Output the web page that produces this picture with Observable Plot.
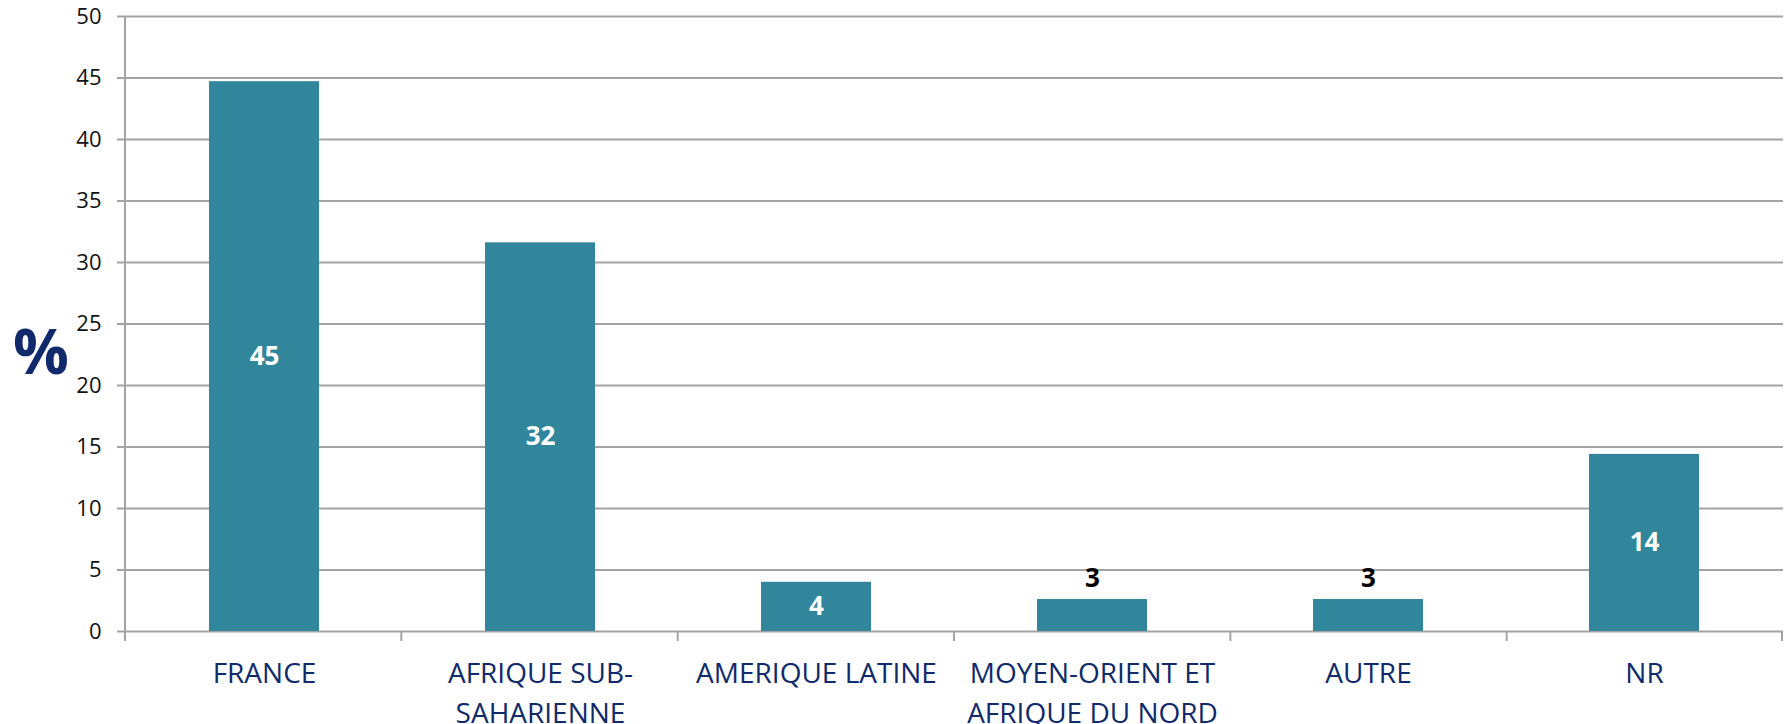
<!DOCTYPE html>
<html>
<head>
<meta charset="utf-8">
<script src="https://cdn.jsdelivr.net/npm/d3@7"></script>
<script src="https://cdn.jsdelivr.net/npm/@observablehq/plot@0.6"></script>
<style>
  html, body { margin: 0; padding: 0; background: #fff; overflow: hidden; }
  #chart { position: relative; width: 1785px; height: 724px; }
  #pct { position: absolute; left: 13px; top: 319px; font: bold 62px "Open Sans", sans-serif; color: #102a6b; line-height: 1; }
</style>
</head>
<body>
<div id="chart"><div id="pct">%</div></div>
<script>
const categories = ["FRANCE", "AFRIQUE SUB-\nSAHARIENNE", "AMERIQUE LATINE", "MOYEN-ORIENT ET\nAFRIQUE DU NORD", "AUTRE", "NR"];
const values = [44.7, 31.6, 4.0, 2.6, 2.6, 14.4];
const yTicks = [0, 5, 10, 15, 20, 25, 30, 35, 40, 45, 50];

const data = categories.map((c, i) => ({cat: c, v: values[i], label: String(Math.round(values[i]))}));
const inside = data.filter(d => d.v >= 3.5);
const above = data.filter(d => d.v < 3.5);

const gray = "#a3a3a3";
const navy = "#102a6b";
const teal = "#31869b";

// y axis line and category boundary ticks, from the frame dimensions
function frameMarks(index, scales, values, dims) {
  const g = d3.create("svg:g");
  const left = dims.marginLeft;
  const right = dims.width - dims.marginRight;
  const n = categories.length;
  const step = (right - left) / n;
  const y0 = scales.y(0);
  const top = scales.y(50);
  g.append("line").attr("x1", left).attr("x2", left).attr("y1", top).attr("y2", y0 + 10)
    .attr("stroke", gray).attr("stroke-width", 2);
  for (let k = 1; k <= n; k++) {
    const b = left + k * step - (k === n ? 1 : 0);
    g.append("line").attr("x1", b).attr("x2", b).attr("y1", y0).attr("y2", y0 + 10)
      .attr("stroke", gray).attr("stroke-width", 2);
  }
  return g.node();
}

const chart = Plot.plot({
  width: 1785,
  height: 724,
  marginLeft: 125,
  marginRight: 2,
  marginTop: 16,
  marginBottom: 93,
  style: {fontFamily: "'Open Sans', sans-serif", background: "transparent", overflow: "visible"},
  x: {domain: categories, paddingInner: 0.6, paddingOuter: 0.3, axis: null},
  y: {domain: [0, 50], axis: null},
  marks: [
    Plot.ruleY(yTicks, {stroke: gray, strokeWidth: 2}),
    Plot.axisY(yTicks, {tickSize: 8, tickPadding: 16, fontSize: 22, stroke: gray, strokeWidth: 2, fill: "#111", tickFormat: d => String(d), label: null}),
    frameMarks,
    Plot.barY(data, {x: "cat", y: "v", fill: teal}),
    Plot.text(inside, {x: "cat", y: d => d.v / 2, text: "label", fill: "#fff", fontSize: 26, fontWeight: "bold"}),
    Plot.text(above, {x: "cat", y: "v", text: "label", fill: "#000", fontSize: 26, fontWeight: "bold", dy: -21}),
    Plot.text(categories, {x: d => d, y: 0, text: d => d, dy: 24, lineAnchor: "top", lineHeight: 1.4, fontSize: 28, fill: navy})
  ]
});
document.getElementById("chart").prepend(chart);
</script>
</body>
</html>
